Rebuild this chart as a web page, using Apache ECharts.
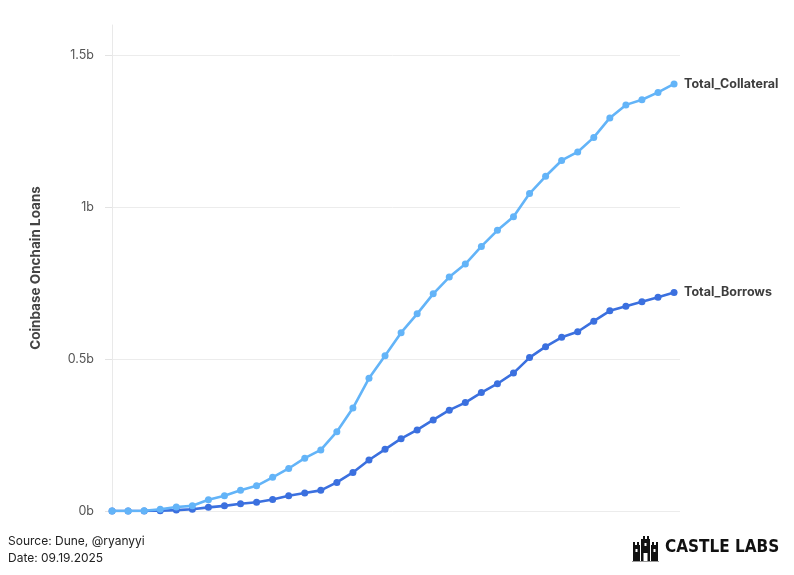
<!DOCTYPE html>
<html>
<head>
<meta charset="utf-8">
<script src="https://cdn.jsdelivr.net/npm/echarts@6/dist/echarts.min.js"></script>
<style>
html,body{margin:0;padding:0;background:#fff;}
#chart{width:794px;height:575px;}
</style>
</head>
<body>
<div id="chart"></div>
<script>
// Data (billions)
const periods = Array.from({length: 36}, (_, i) => i); // 36 sequential periods
const totalCollateral = [0, 0, 0.001, 0.006, 0.013, 0.017, 0.037, 0.050, 0.068, 0.083, 0.111, 0.140, 0.174, 0.201, 0.261, 0.339, 0.437, 0.511, 0.587, 0.649, 0.715, 0.770, 0.813, 0.871, 0.924, 0.969, 1.045, 1.102, 1.154, 1.182, 1.230, 1.294, 1.337, 1.354, 1.378, 1.406];
const totalBorrows = [0, 0, 0, 0.001, 0.003, 0.006, 0.012, 0.017, 0.024, 0.029, 0.038, 0.050, 0.059, 0.068, 0.094, 0.127, 0.168, 0.203, 0.238, 0.267, 0.300, 0.332, 0.357, 0.390, 0.419, 0.454, 0.505, 0.541, 0.572, 0.590, 0.625, 0.659, 0.674, 0.689, 0.704, 0.719];
const seriesNames = ['Total_Collateral', 'Total_Borrows'];
const yTicks = [0, 0.5, 1, 1.5];
const yLabels = ['0b', '0.5b', '1b', '1.5b'];
const yAxisTitle = 'Coinbase Onchain Loans';
const sourceText = 'Source: Dune, @ryanyyi';
const dateText = 'Date: 09.19.2025';
const brandText = 'CASTLE LABS';

const chart = echarts.init(document.getElementById('chart'), null, {renderer: 'canvas'});
const font = 'Inter, Roboto, "Noto Sans", sans-serif';

function mkSeries(name, values, color) {
  return {
    name: name,
    type: 'line',
    data: periods.map((p, i) => [p, values[i]]),
    symbol: 'circle',
    symbolSize: 7,
    lineStyle: {width: 2.6, color: color},
    itemStyle: {color: color},
    smooth: false,
    z: name === 'Total_Collateral' ? 3 : 2,
    endLabel: {
      show: true,
      formatter: name,
      color: '#3d3d3d',
      fontFamily: font,
      fontWeight: 'bold',
      fontSize: 12.5,
      offset: [2, 0]
    },
    labelLine: {show: false}
  };
}

const option = {
  backgroundColor: '#ffffff',
  animation: false,
  grid: {left: 105, right: 114, top: 25, bottom: 64, containLabel: false},
  xAxis: {
    type: 'value',
    min: -0.44,
    max: 35.37,
    axisLine: {show: false},
    axisTick: {show: false},
    axisLabel: {show: false},
    splitLine: {show: false}
  },
  yAxis: {
    type: 'value',
    min: 0,
    max: 1.6,
    interval: 0.5,
    name: yAxisTitle,
    nameLocation: 'middle',
    nameGap: 62,
    nameTextStyle: {color: '#444', fontFamily: font, fontWeight: 'bold', fontSize: 13.5},
    axisLine: {show: true, lineStyle: {color: '#e9e9e9', width: 1}},
    axisTick: {show: true, length: 7, lineStyle: {color: '#e3e3e3'}},
    axisLabel: {
      color: '#555',
      fontFamily: font,
      fontSize: 12.5,
      margin: 11,
      showMaxLabel: false,
      formatter: v => { const k = yTicks.indexOf(v); return k >= 0 ? yLabels[k] : ''; }
    },
    splitLine: {show: true, showMaxLine: false, lineStyle: {color: '#ececec', width: 1}}
  },
  series: [
    mkSeries(seriesNames[0], totalCollateral, '#63b4f8'),
    mkSeries(seriesNames[1], totalBorrows, '#3b70df')
  ],
  graphic: [
    {type: 'text', left: 8, top: 535, style: {text: sourceText, fill: '#222', font: '12px ' + font}},
    {type: 'text', left: 8, top: 552, style: {text: dateText, fill: '#222', font: '12px ' + font}},
    // castle icon
    {type: 'group', left: 632, top: 536, children: [
      {type: 'rect', shape: {x: 0, y: 9, width: 7, height: 16}, style: {fill: '#111'}},
      {type: 'rect', shape: {x: 18, y: 9, width: 7, height: 16}, style: {fill: '#111'}},
      {type: 'rect', shape: {x: 8, y: 3, width: 9, height: 22}, style: {fill: '#111'}},
      {type: 'rect', shape: {x: 10, y: 0, width: 2, height: 3}, style: {fill: '#111'}},
      {type: 'rect', shape: {x: 14, y: 0, width: 2, height: 3}, style: {fill: '#111'}},
      {type: 'rect', shape: {x: 0, y: 6, width: 2, height: 3}, style: {fill: '#111'}},
      {type: 'rect', shape: {x: 4, y: 6, width: 2, height: 3}, style: {fill: '#111'}},
      {type: 'rect', shape: {x: 19, y: 6, width: 2, height: 3}, style: {fill: '#111'}},
      {type: 'rect', shape: {x: 23, y: 6, width: 2, height: 3}, style: {fill: '#111'}},
      {type: 'rect', shape: {x: 10.5, y: 17, width: 4, height: 8}, style: {fill: '#fff'}},
      {type: 'rect', shape: {x: 2.5, y: 13, width: 2, height: 3}, style: {fill: '#fff'}},
      {type: 'rect', shape: {x: 20.5, y: 13, width: 2, height: 3}, style: {fill: '#fff'}},
      {type: 'rect', shape: {x: 11.5, y: 7, width: 2, height: 3}, style: {fill: '#fff'}},
      {type: 'rect', shape: {x: -1, y: 25, width: 27, height: 1}, style: {fill: '#999'}}
    ]},
    {type: 'text', left: 665, top: 539, style: {text: brandText, fill: '#111', font: 'bold 17px "DejaVu Sans Condensed", "Liberation Sans Narrow", sans-serif'}}
  ]
};
chart.setOption(option);
</script>
</body>
</html>
